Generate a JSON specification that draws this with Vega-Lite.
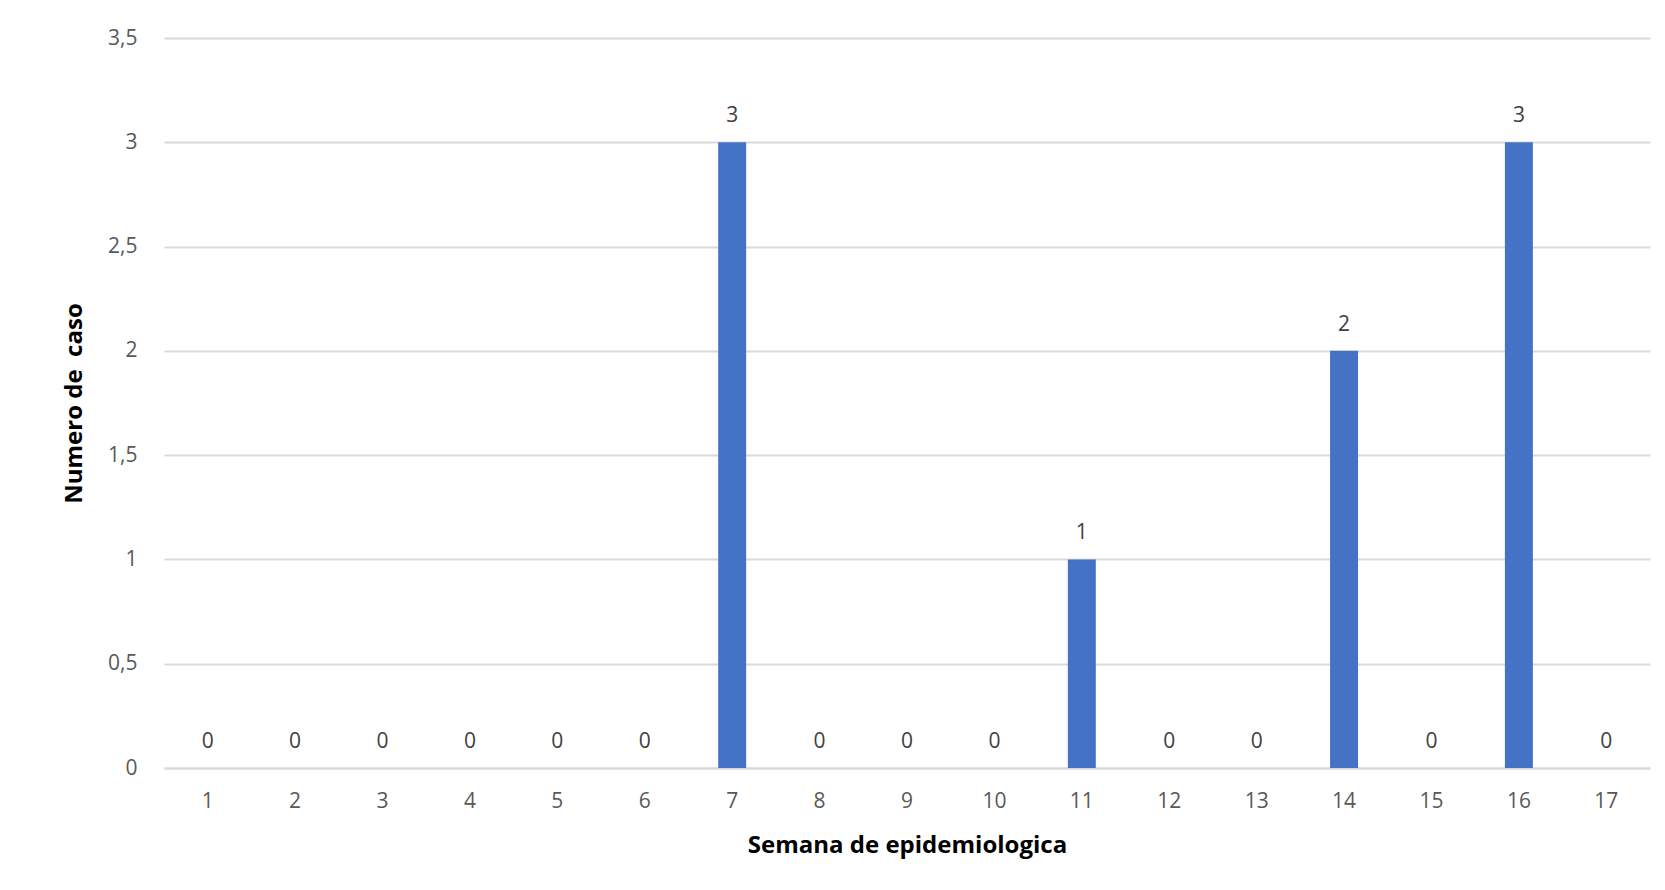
{
  "$schema": "https://vega.github.io/schema/vega-lite/v6.json",
  "autosize": "none",
  "width": 1486,
  "height": 730,
  "padding": {"left": 164, "top": 38, "right": 15, "bottom": 122},
  "background": "white",
  "config": {
    "view": {"stroke": null},
    "font": "Open Sans"
  },
  "data": {
    "values": [
      {"semana": "1", "casos": 0},
      {"semana": "2", "casos": 0},
      {"semana": "3", "casos": 0},
      {"semana": "4", "casos": 0},
      {"semana": "5", "casos": 0},
      {"semana": "6", "casos": 0},
      {"semana": "7", "casos": 3},
      {"semana": "8", "casos": 0},
      {"semana": "9", "casos": 0},
      {"semana": "10", "casos": 0},
      {"semana": "11", "casos": 1},
      {"semana": "12", "casos": 0},
      {"semana": "13", "casos": 0},
      {"semana": "14", "casos": 2},
      {"semana": "15", "casos": 0},
      {"semana": "16", "casos": 3},
      {"semana": "17", "casos": 0}
    ]
  },
  "encoding": {
    "x": {
      "field": "semana",
      "type": "ordinal",
      "sort": null,
      "scale": {"paddingInner": 0.68, "paddingOuter": 0.34},
      "axis": {
        "title": "Semana de epidemiologica",
        "titleFontSize": 24,
        "titleFontWeight": "bold",
        "titleColor": "#000000",
        "titleY": 77,
        "titleBaseline": "middle",
        "labelAngle": 0,
        "labelFontSize": 21,
        "labelColor": "#595959",
        "labelPadding": 22,
        "ticks": false,
        "domain": true,
        "domainColor": "#D9D9D9",
        "domainWidth": 2,
        "grid": false
      }
    },
    "y": {
      "field": "casos",
      "type": "quantitative",
      "scale": {"domain": [0, 3.5], "nice": false},
      "axis": {
        "title": "Numero de\u00a0 caso",
        "titleFontSize": 24,
        "titleFontWeight": "bold",
        "titleColor": "#000000",
        "titleX": -90,
        "titleBaseline": "middle",
        "values": [0, 0.5, 1, 1.5, 2, 2.5, 3, 3.5],
        "labelExpr": "replace(format(datum.value, ''), '.', ',')",
        "labelFontSize": 21,
        "labelColor": "#595959",
        "labelPadding": 27,
        "ticks": false,
        "domain": false,
        "grid": true,
        "gridColor": "#D9D9D9",
        "gridWidth": 2
      }
    }
  },
  "layer": [
    {
      "mark": {"type": "bar", "color": "#4472C4"}
    },
    {
      "mark": {
        "type": "text",
        "baseline": "alphabetic",
        "dy": -20,
        "fontSize": 21,
        "color": "#404040"
      },
      "encoding": {"text": {"field": "casos", "type": "quantitative"}}
    }
  ]
}
